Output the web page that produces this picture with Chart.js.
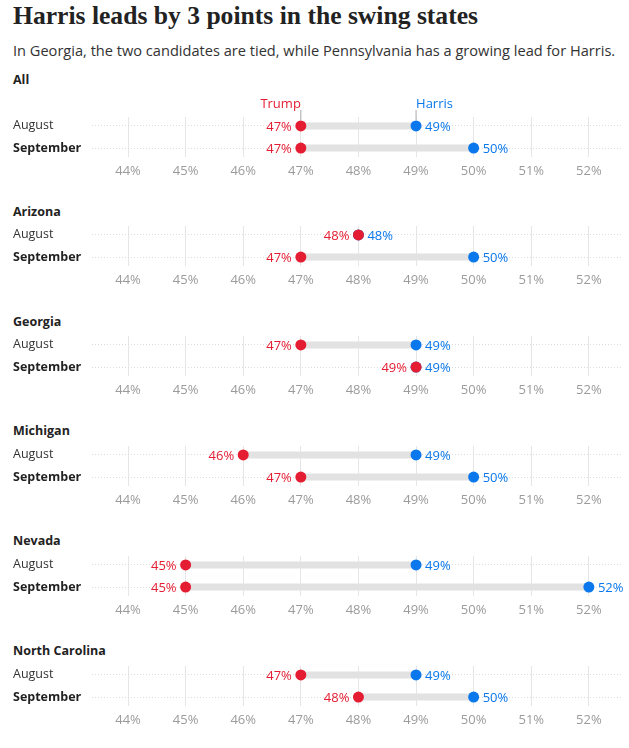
<!DOCTYPE html>
<html>
<head>
<meta charset="utf-8">
<title>Harris leads by 3 points in the swing states</title>
<script src="https://cdn.jsdelivr.net/npm/chart.js"></script>
<style>
  body { margin: 0; background: #fff; font-family: "Open Sans", sans-serif; }
  #page { position: relative; width: 629px; height: 748px; overflow: hidden; }
  h1 { position: absolute; left: 13px; top: 1px; margin: 0; font: bold 25.6px "Liberation Serif", serif; color: #222; white-space: nowrap; }
  .sub { position: absolute; left: 13px; top: 40px; font-size: 14.6px; color: #333; white-space: nowrap; }
  .state { position: absolute; left: 13px; font-weight: bold; font-size: 12.5px; color: #222; line-height: 16px; }
  .panel { position: absolute; left: 0; width: 629px; }
</style>
</head>
<body>
<div id="page">
  <h1>Harris leads by 3 points in the swing states</h1>
  <div class="sub">In Georgia, the two candidates are tied, while Pennsylvania has a growing lead for Harris.</div>
</div>

<script>
const states = ['All', 'Arizona', 'Georgia', 'Michigan', 'Nevada', 'North Carolina'];
const months = ['August', 'September'];
const trumpAug = [47, 48, 47, 46, 45, 47];
const trumpSep = [47, 47, 49, 47, 45, 48];
const harrisAug = [49, 48, 49, 49, 49, 49];
const harrisSep = [50, 50, 49, 50, 52, 50];
const tickValues = [44, 45, 46, 47, 48, 49, 50, 51, 52];
const tickLabels = ['44%', '45%', '46%', '47%', '48%', '49%', '50%', '51%', '52%'];

const RED = '#e41d32';
const BLUE = '#0a78ec';
const FONT = '"Open Sans", sans-serif';

// percent labels next to the dots
const valueLabels = {
  id: 'valueLabels',
  afterDatasetsDraw(chart) {
    const ctx = chart.ctx;
    ctx.save();
    ctx.font = '13px ' + FONT;
    ctx.textBaseline = 'middle';
    chart.data.datasets.forEach((ds, i) => {
      if (!ds.side) return;
      const meta = chart.getDatasetMeta(i);
      ctx.fillStyle = ds.backgroundColor;
      ctx.textAlign = ds.side === 'left' ? 'right' : 'left';
      const off = ds.side === 'left' ? -9 : 9;
      meta.data.forEach((pt, j) => {
        ctx.fillText(ds.data[j].x + '%', pt.x + off, pt.y + 1);
      });
    });
    // Trump / Harris key over the first panel
    if (chart.options.showKey) {
      chart.data.datasets.forEach((ds, i) => {
        if (!ds.side) return;
        const pt = chart.getDatasetMeta(i).data[0];
        ctx.strokeStyle = '#aaa';
        ctx.lineWidth = 1;
        ctx.beginPath();
        ctx.moveTo(pt.x, pt.y - 16);
        ctx.lineTo(pt.x, pt.y - 6);
        ctx.stroke();
        ctx.fillStyle = ds.backgroundColor;
        ctx.textAlign = ds.side === 'left' ? 'right' : 'left';
        ctx.fillText(ds.label, pt.x, pt.y - 22);
      });
    }
    ctx.restore();
  }
};

const page = document.getElementById('page');

states.forEach((name, i) => {
  const rowY = 125 + i * 109.8;
  const padTop = i === 0 ? 30 : 12;
  const plotH = 37.8;
  const axisH = 26;

  const head = document.createElement('div');
  head.className = 'state';
  head.textContent = name;
  head.style.top = (i === 0 ? 72 : rowY - 31) + 'px';
  page.appendChild(head);

  const box = document.createElement('div');
  box.className = 'panel';
  box.style.top = (rowY - 8.4 - padTop) + 'px';
  const canvas = document.createElement('canvas');
  canvas.width = 629;
  canvas.height = Math.round(padTop + plotH + axisH + 2);
  box.appendChild(canvas);
  page.appendChild(box);

  new Chart(canvas, {
    type: 'scatter',
    data: {
      datasets: [
        {
          type: 'line', data: [{ x: trumpAug[i], y: 0 }, { x: harrisAug[i], y: 0 }],
          borderColor: '#e2e2e2', borderWidth: 7, pointRadius: 0, order: 3
        },
        {
          type: 'line', data: [{ x: trumpSep[i], y: 1 }, { x: harrisSep[i], y: 1 }],
          borderColor: '#e2e2e2', borderWidth: 7, pointRadius: 0, order: 3
        },
        {
          label: 'Harris', side: 'right',
          data: [{ x: harrisAug[i], y: 0 }, { x: harrisSep[i], y: 1 }],
          backgroundColor: BLUE, borderWidth: 0, pointRadius: 5.5, order: 2
        },
        {
          label: 'Trump', side: 'left',
          data: [{ x: trumpAug[i], y: 0 }, { x: trumpSep[i], y: 1 }],
          backgroundColor: RED, borderWidth: 0, pointRadius: 5.5, order: 1
        }
      ]
    },
    options: {
      responsive: false,
      animation: false,
      showKey: i === 0,
      layout: { padding: { top: padTop, left: 13, right: 7, bottom: 0 } },
      plugins: { legend: { display: false }, tooltip: { enabled: false } },
      scales: {
        x: {
          type: 'linear', min: 43.375, max: 52.575,
          afterBuildTicks: s => { s.ticks = tickValues.map(v => ({ value: v })); },
          afterFit: s => { s.height = axisH; },
          grid: { color: '#e6e6e6', drawTicks: false },
          border: { display: false },
          ticks: {
            color: '#9b9b9b', padding: 6, font: { size: 13, family: FONT },
            callback: v => tickLabels[tickValues.indexOf(v)]
          }
        },
        y: {
          type: 'linear', min: -0.4, max: 1.4, reverse: true,
          afterBuildTicks: s => { s.ticks = [{ value: 0 }, { value: 1 }]; },
          afterFit: s => { s.width = 79; },
          grid: { color: '#dcdcdc', drawTicks: false },
          border: { display: false, dash: [1, 2] },
          ticks: {
            crossAlign: 'far',
            color: c => c.tick && c.tick.value === 1 ? '#222' : '#333',
            font: c => ({ size: 12.5, family: FONT, weight: c.tick && c.tick.value === 1 ? 'bold' : 'normal' }),
            callback: v => months[v]
          }
        }
      }
    },
    plugins: [valueLabels]
  });
});
</script>
</body>
</html>
